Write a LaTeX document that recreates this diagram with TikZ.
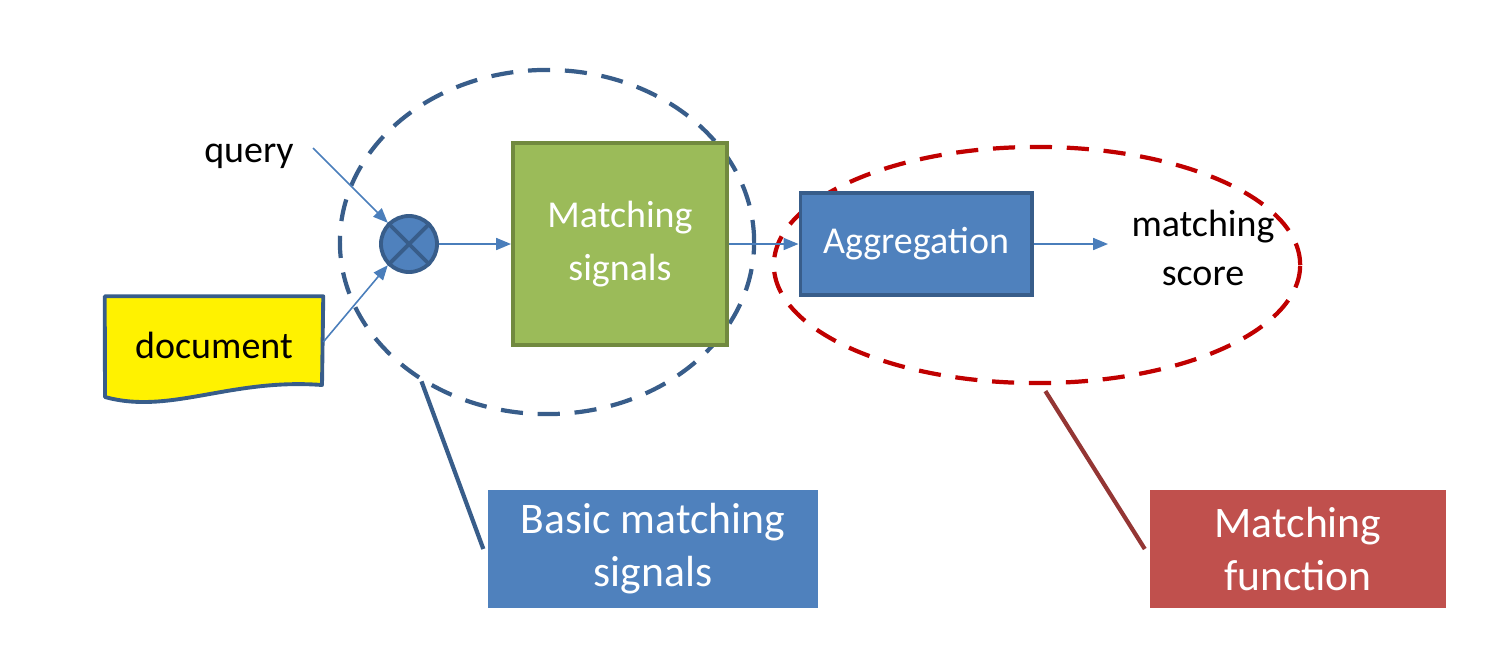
\documentclass[tikz,border=0pt]{standalone}
\usepackage{fontspec}
\setmainfont{Carlito}
\usetikzlibrary{arrows.meta,shapes.geometric}
\definecolor{accblue}{HTML}{4F81BD}
\definecolor{darkblue}{HTML}{385D8A}
\definecolor{arrowblue}{HTML}{4A7EBB}
\definecolor{leafgreen}{HTML}{9BBB59}
\definecolor{darkgreen}{HTML}{71893F}
\definecolor{accred}{HTML}{C0504D}
\definecolor{ringred}{HTML}{C00000}
\definecolor{brownred}{HTML}{943634}

\begin{document}
\begin{tikzpicture}[
  x=0.01cm, y=-0.01cm,
  box/.style={draw, line width=1.1pt, text=white, inner sep=0pt, align=center,
    font=\fontsize{10.8}{14.5}\selectfont},
  lbl/.style={text=white, inner sep=0pt, minimum height=1.18cm, align=center,
    font=\fontsize{12.4}{15.1}\selectfont},
  ring/.style={ellipse, draw, line width=1.2pt, dash pattern=on 6.3pt off 4.2pt, inner sep=0pt},
  sig/.style={draw=arrowblue, line width=0.45pt, -{Triangle[length=4.2pt,width=3.4pt]}},
  txt/.style={align=center, font=\fontsize{10.8}{13.8}\selectfont}
]
  \useasboundingbox (0,0) rectangle (1506,663);

  % grouping ellipses
  \node[ring, draw=darkblue, minimum width=4.14cm, minimum height=3.44cm] (basic) at (547,242) {};
  \node[ring, draw=ringred, minimum width=5.26cm, minimum height=2.36cm] (func) at (1037,265) {};

  % inputs
  \node[txt] (query) at (249,156) {query};
  \node[inner sep=0pt, minimum width=2.17cm, minimum height=0.9cm] (doc) at (214,342) {};
  \draw[darkblue, fill=yellow, line width=1.1pt, line join=round] (doc.north west) -- (doc.north east) -- (322,385)
    .. controls (230,378) and (170,415) .. (105,397) -- cycle;
  \node[txt] (doclbl) at (214,345) {document};

  \node[circle, draw=darkblue, fill=accblue, line width=1.1pt, minimum size=0.56cm, inner sep=0pt] (mul) at (409,244) {};
  \draw[darkblue, line width=1.1pt] (mul.45) -- (mul.225) (mul.135) -- (mul.315);

  % boxes
  \node[box, draw=darkgreen, fill=leafgreen, minimum width=2.14cm, minimum height=2.02cm] (match) at (620,244) {Matching\\[0.4pt]signals};
  \node[box, draw=darkblue, fill=accblue, minimum width=2.31cm, minimum height=1.02cm] (agg) at (916,244) {Aggregation};
  \node[txt] (score) at (1203,248) {matching\\score};

  % flow
  \draw[sig] (313,148) -- (mul.135);
  \draw[sig] (doc.east) -- (mul.225);
  \draw[sig] (mul) -- (match);
  \draw[sig] (match) -- (agg);
  \draw[sig] (agg) -- (1108,244);

  % callouts
  \node[lbl, fill=accblue, minimum width=3.30cm] (lblbasic) at (653,549) {Basic matching\\signals};
  \node[lbl, fill=accred, minimum width=2.95cm] (lblfunc) at (1298,549) {Matching\\function};
  \draw[darkblue, line width=1.2pt] (basic.228) -- ([xshift=-1.1pt]lblbasic.west);
  \draw[brownred, line width=1.2pt] ([yshift=-1.7pt]func.274) -- ([xshift=-1.4pt]lblfunc.west);
\end{tikzpicture}
\end{document}
